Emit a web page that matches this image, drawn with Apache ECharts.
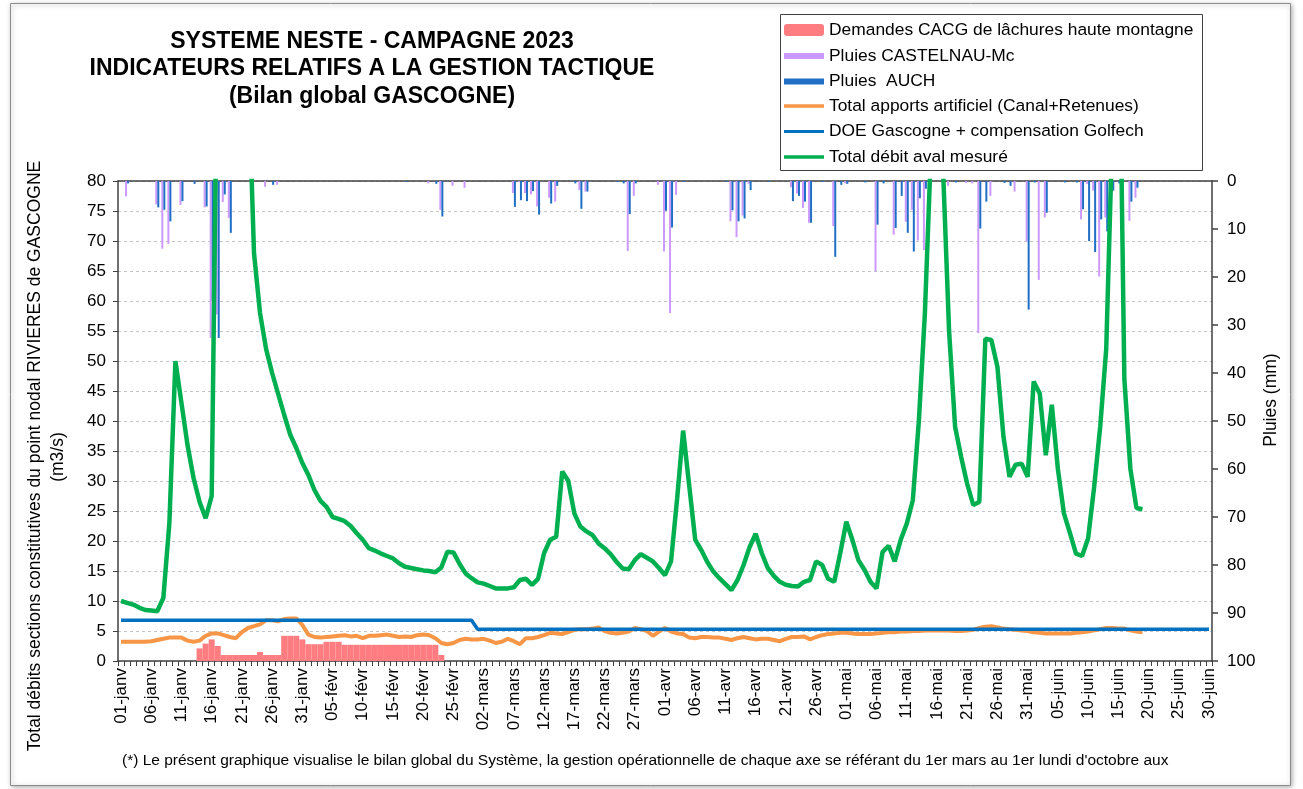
<!DOCTYPE html>
<html>
<head>
<meta charset="utf-8">
<script src="https://cdn.jsdelivr.net/npm/echarts@6/dist/echarts.min.js"></script>
<style>
html, body { margin: 0; padding: 0; background: #fff; }
#chart { width: 1303px; height: 789px; }
</style>
</head>
<body>
<div id="chart"></div>
<script>
// axe des dates : 01-janv -> 30-juin
var mois = ['janv', 'févr', 'mars', 'avr', 'mai', 'juin'];
var joursParMois = [31, 28, 31, 30, 31, 30];
var dates = [];
mois.forEach(function (m, k) {
  for (var d = 1; d <= joursParMois[k]; d++) dates.push((d < 10 ? '0' : '') + d + '-' + m);
});

var nomsSeries = [
  'Demandes CACG de lâchures haute montagne',
  'Pluies CASTELNAU-Mc',
  'Pluies  AUCH',
  'Total apports artificiel (Canal+Retenues)',
  'DOE Gascogne + compensation Golfech',
  'Total débit aval mesuré'
];

// m3/s
var demandesCACG = [
  0, 0, 0, 0, 0, 0, 0, 0, 0, 0,
  0, 0, 0, 2.1, 2.9, 3.6, 2.5, 1.0, 1.0, 1.0,
  1.0, 1.0, 1.0, 1.5, 1.0, 1.0, 1.0, 4.2, 4.2, 4.2,
  3.6, 2.8, 2.8, 2.8, 3.2, 3.2, 3.2, 2.7, 2.7, 2.7,
  2.7, 2.7, 2.7, 2.7, 2.7, 2.7, 2.7, 2.7, 2.7, 2.7,
  2.7, 2.7, 2.7, 1.0
];

// mm (axe de droite inversé)
var pluiesCastelnau = [
  0, 3.2, 0, 0, 0, 0, 4.9, 14.1, 13.1, 0,
  5.0, 0, 0, 0, 5.5, 32.7, 27.8, 4.4, 7.7, 0,
  0, 0, 0, 0, 1.2, 0, 0.8, 0, 0, 0,
  0, 0, 0, 0, 0, 0, 0, 0, 0, 0,
  0, 0, 0, 0, 0, 0, 0, 0, 0, 0,
  0, 0.5, 0, 6.0, 0, 1.0, 0, 1.4, 0, 0,
  0, 0, 0, 0, 0, 2.5, 0.2, 2.5, 2.8, 5.3,
  0, 3.5, 4.3, 0, 0, 0, 1.9, 2.2, 0, 0,
  0, 0, 0, 0, 14.6, 3.1, 0, 0, 0, 0.8,
  14.7, 27.5, 2.9, 0, 0, 0, 0, 0, 0, 0,
  0, 8.4, 11.7, 7.2, 0.6, 0, 0, 0, 0, 0,
  0, 1.3, 2.6, 5.6, 8.7, 0, 0, 0, 9.4, 0,
  0.5, 0, 0, 0, 0, 18.8, 0, 0, 11.2, 0,
  8.5, 6.0, 12.4, 14.4, 0, 0, 0, 1.0, 0, 0,
  0.4, 0.5, 31.7, 0, 3.1, 0, 0, 0, 2.2, 0,
  12.6, 0, 20.6, 7.6, 0, 0, 0, 0, 0, 8.0,
  0.6, 2.0, 19.9, 7.6, 3.0, 0, 0, 8.3, 3.5, 0
];

var pluiesAuch = [
  0, 0.5, 0, 0, 0, 0, 5.5, 6.0, 8.4, 0,
  4.2, 0, 0.6, 0, 5.3, 25.0, 32.7, 2.8, 10.8, 0,
  0, 0, 0, 0, 0, 0.8, 0, 0, 0, 0,
  0, 0, 0, 0, 0, 0, 0, 0, 0, 0,
  0, 0, 0, 0, 0, 0, 0, 0.2, 0, 0,
  0, 0, 0.6, 7.4, 0, 0, 0, 0, 0, 0,
  0, 0, 0, 0, 0, 5.4, 4.0, 4.2, 2.1, 7.0,
  0, 4.7, 1.0, 0, 0, 0.5, 5.8, 2.2, 0, 0,
  0, 0, 0.2, 0.5, 6.9, 0.5, 0, 0, 0, 0,
  6.2, 9.7, 0, 0.2, 0, 0, 0, 0, 0, 0,
  0.2, 6.1, 8.4, 7.8, 1.9, 0, 0, 0.2, 0, 0,
  0, 4.2, 3.1, 4.3, 8.7, 0, 0.2, 0, 15.8, 0.8,
  0.6, 0, 0, 0.3, 0, 9.1, 0.5, 0, 9.8, 3.1,
  10.8, 14.7, 3.6, 1.6, 0, 0, 0, 0, 0.3, 0,
  0, 0, 9.9, 4.3, 0, 0, 0.4, 1.0, 0, 0,
  26.8, 0.3, 0, 6.6, 0, 0, 0.3, 0, 0.3, 5.9,
  12.5, 14.8, 8.0, 10.5, 2.0, 0.5, 0, 4.3, 1.4, 0
];

var apportsArtificiels = [
  3.2, 3.2, 3.2, 3.2, 3.2, 3.3, 3.5, 3.7, 3.9, 3.9,
  3.9, 3.4, 3.2, 3.4, 4.2, 4.6, 4.6, 4.3, 4.0, 3.8,
  4.8, 5.5, 5.8, 6.1, 6.8, 6.8, 6.6, 7.0, 7.1, 7.1,
  6.0, 4.4, 4.0, 3.9, 4.0, 4.1, 4.2, 4.3, 4.1, 4.2,
  3.8, 4.2, 4.2, 4.3, 4.4, 4.2, 4.0, 4.1, 4.0, 4.3,
  4.4, 4.3, 3.8, 3.0, 2.8, 3.0, 3.5, 3.7, 3.6, 3.6,
  3.7, 3.4, 3.0, 3.2, 3.7, 3.3, 2.8, 3.8, 3.8, 4.0,
  4.3, 4.7, 4.6, 4.5, 4.8, 5.2, 5.3, 5.3, 5.4, 5.6,
  5.0, 4.7, 4.6, 4.7, 4.9, 5.5, 5.3, 5.0, 4.2, 4.9,
  5.5, 4.9, 4.6, 4.5, 3.9, 3.8, 4.0, 4.0, 3.9, 3.9,
  3.7, 3.5, 3.8, 4.0, 3.8, 3.6, 3.7, 3.7, 3.5, 3.3,
  3.7, 4.0, 4.0, 4.1, 3.6, 4.0, 4.3, 4.5, 4.6, 4.7,
  4.7, 4.6, 4.5, 4.5, 4.5, 4.6, 4.7, 4.8, 4.8, 4.9,
  4.9, 5.0, 5.0, 5.1, 5.1, 5.1, 5.1, 5.1, 5.0, 5.0,
  5.1, 5.2, 5.5, 5.7, 5.8, 5.6, 5.4, 5.3, 5.2, 5.1,
  5.0, 4.8, 4.7, 4.6, 4.6, 4.6, 4.6, 4.6, 4.7, 4.8,
  4.9, 5.1, 5.3, 5.5, 5.5, 5.4, 5.4, 5.1, 4.9, 4.8
];

var doeGolfech = [
  6.8, 6.8, 6.8, 6.8, 6.8, 6.8, 6.8, 6.8, 6.8, 6.8,
  6.8, 6.8, 6.8, 6.8, 6.8, 6.8, 6.8, 6.8, 6.8, 6.8,
  6.8, 6.8, 6.8, 6.8, 6.8, 6.8, 6.8, 6.8, 6.8, 6.8,
  6.8, 6.8, 6.8, 6.8, 6.8, 6.8, 6.8, 6.8, 6.8, 6.8,
  6.8, 6.8, 6.8, 6.8, 6.8, 6.8, 6.8, 6.8, 6.8, 6.8,
  6.8, 6.8, 6.8, 6.8, 6.8, 6.8, 6.8, 6.8, 6.8, 5.3,
  5.3, 5.3, 5.3, 5.3, 5.3, 5.3, 5.3, 5.3, 5.3, 5.3,
  5.3, 5.3, 5.3, 5.3, 5.3, 5.3, 5.3, 5.3, 5.3, 5.3,
  5.3, 5.3, 5.3, 5.3, 5.3, 5.3, 5.3, 5.3, 5.3, 5.3,
  5.3, 5.3, 5.3, 5.3, 5.3, 5.3, 5.3, 5.3, 5.3, 5.3,
  5.3, 5.3, 5.3, 5.3, 5.3, 5.3, 5.3, 5.3, 5.3, 5.3,
  5.3, 5.3, 5.3, 5.3, 5.3, 5.3, 5.3, 5.3, 5.3, 5.3,
  5.3, 5.3, 5.3, 5.3, 5.3, 5.3, 5.3, 5.3, 5.3, 5.3,
  5.3, 5.3, 5.3, 5.3, 5.3, 5.3, 5.3, 5.3, 5.3, 5.3,
  5.3, 5.3, 5.3, 5.3, 5.3, 5.3, 5.3, 5.3, 5.3, 5.3,
  5.3, 5.3, 5.3, 5.3, 5.3, 5.3, 5.3, 5.3, 5.3, 5.3,
  5.3, 5.3, 5.3, 5.3, 5.3, 5.3, 5.3, 5.3, 5.3, 5.3,
  5.3, 5.3, 5.3, 5.3, 5.3, 5.3, 5.3, 5.3, 5.3, 5.3,
  5.3
];

// valeurs > 80 sortent du cadre (coupées comme dans l'original)
var debitAval = [
  10.0, 9.7, 9.4, 8.9, 8.5, 8.4, 8.3, 10.5, 23, 50,
  43, 36, 30.5, 26.5, 23.8, 27.5, 110, 130, 125, 115,
  105, 100, 68, 58, 52, 48, 44.5, 41, 37.7, 35.5,
  33, 31, 28.5, 26.7, 25.7, 24, 23.7, 23.3, 22.5, 21.3,
  20.2, 18.8, 18.4, 17.9, 17.5, 17.1, 16.3, 15.7, 15.5, 15.3,
  15.1, 15.0, 14.8, 15.6, 18.2, 18.1, 16.2, 14.6, 13.8, 13.1,
  12.9, 12.5, 12.1, 12.1, 12.1, 12.3, 13.5, 13.7, 12.7, 13.7,
  18.0, 20.2, 20.7, 31.6, 30.0, 24.6, 22.4, 21.6, 21.0, 19.6,
  18.8, 17.8, 16.5, 15.4, 15.3, 16.8, 17.8, 17.2, 16.6, 15.5,
  14.3, 16.6, 27, 38.4, 29.3, 20.2, 18.5, 16.5, 14.9, 13.8,
  12.8, 11.8, 13.5, 16.0, 19.0, 21.2, 18.0, 15.5, 14.2, 13.2,
  12.7, 12.5, 12.4, 13.2, 13.5, 16.6, 16.0, 13.7, 13.2, 18.0,
  23.2, 20.2, 16.8, 15.2, 13.2, 12.1, 18.2, 19.2, 16.6, 20.2,
  22.9, 26.8, 40, 58, 85, 110, 82, 55, 39, 34,
  29.5, 26, 26.5, 53.7, 53.5, 49, 37.4, 30.7, 32.7, 32.9,
  30.7, 46.6, 44.6, 34.3, 42.7, 32, 24.6, 21.3, 17.9, 17.5,
  20.4, 29, 39, 52, 88, 120, 47, 32, 25.5, 25.3
];

var couleurs = ['#FF7C80', '#CC99FF', '#1F6FC5', '#F79646', '#0070C0', '#00B050'];
var FONT = "'Liberation Sans', Arial, sans-serif";

// une légende par ligne pour avoir des icônes de tailles différentes
var lignesLegende = [
  { icon: 'roundRect', h: 12, y: 29 },
  { icon: 'rect', h: 6, y: 55 },
  { icon: 'rect', h: 6, y: 80.5 },
  { icon: 'rect', h: 3.5, y: 105 },
  { icon: 'rect', h: 3, y: 130.5 },
  { icon: 'rect', h: 3.5, y: 156 }
];
var legendes = lignesLegende.map(function (l, k) {
  return {
    data: [{ name: nomsSeries[k], icon: l.icon }],
    left: 784,
    top: l.y - 7.5,
    padding: 0,
    itemWidth: 40,
    itemHeight: l.h,
    selectedMode: false,
    textStyle: { fontFamily: FONT, fontSize: 17.4, color: '#000' }
  };
});

var chart = echarts.init(document.getElementById('chart'));
var option = {
  animation: false,
  textStyle: { fontFamily: FONT },
  legend: legendes,
  grid: { left: 118, right: 91, top: 181, bottom: 128 },
  xAxis: [
    {
      type: 'category',
      data: dates,
      position: 'bottom',
      boundaryGap: true,
      axisLine: { lineStyle: { color: '#404040', width: 1.5 } },
      axisTick: { show: true, interval: 0, length: 5, lineStyle: { color: '#404040' } },
      axisLabel: { interval: 4, rotate: 90, margin: 7, fontSize: 17, color: '#000' },
      splitLine: { show: false }
    },
    {
      type: 'category',
      data: dates,
      position: 'top',
      boundaryGap: true,
      axisLine: { lineStyle: { color: '#404040', width: 1.5 } },
      axisTick: { show: false },
      axisLabel: { show: false },
      splitLine: { show: false }
    }
  ],
  yAxis: [
    {
      type: 'value',
      position: 'left',
      min: 0,
      max: 80,
      interval: 5,
      axisLine: { show: true, lineStyle: { color: '#404040', width: 1.5 } },
      axisTick: { show: true, length: 5, lineStyle: { color: '#404040' } },
      axisLabel: { margin: 12, fontSize: 17, color: '#000' },
      splitLine: { show: true, lineStyle: { color: '#c4c4c4', type: [3, 3] } }
    },
    {
      type: 'value',
      position: 'right',
      inverse: true,
      min: 0,
      max: 100,
      interval: 10,
      axisLine: { show: true, lineStyle: { color: '#404040', width: 1.5 } },
      axisTick: { show: true, length: 6, lineStyle: { color: '#404040', width: 1.5 } },
      axisLabel: { margin: 15, fontSize: 17, color: '#000' },
      splitLine: { show: false }
    }
  ],
  series: [
    {
      name: nomsSeries[0], type: 'bar', xAxisIndex: 1, yAxisIndex: 0,
      data: demandesCACG, barCategoryGap: '0%',
      itemStyle: { color: couleurs[0] }
    },
    {
      name: nomsSeries[1], type: 'bar', xAxisIndex: 0, yAxisIndex: 1,
      data: pluiesCastelnau, barWidth: 2, barGap: '0%',
      itemStyle: { color: couleurs[1] }
    },
    {
      name: nomsSeries[2], type: 'bar', xAxisIndex: 0, yAxisIndex: 1,
      data: pluiesAuch, barWidth: 2, barGap: '0%',
      itemStyle: { color: couleurs[2] }
    },
    {
      name: nomsSeries[3], type: 'line', xAxisIndex: 0, yAxisIndex: 0,
      data: apportsArtificiels, symbol: 'none',
      itemStyle: { color: couleurs[3] },
      lineStyle: { color: couleurs[3], width: 4 }
    },
    {
      name: nomsSeries[4], type: 'line', xAxisIndex: 0, yAxisIndex: 0,
      data: doeGolfech, symbol: 'none',
      itemStyle: { color: couleurs[4] },
      lineStyle: { color: couleurs[4], width: 3.5 }
    },
    {
      name: nomsSeries[5], type: 'line', xAxisIndex: 0, yAxisIndex: 0,
      data: debitAval, symbol: 'none', clip: true,
      itemStyle: { color: couleurs[5] },
      lineStyle: { color: couleurs[5], width: 4.5 }
    }
  ],
  graphic: [
    {
      type: 'rect', z: -10, silent: true,
      shape: { x: 10.5, y: 3.5, width: 1280, height: 782 },
      style: { fill: '#fff', stroke: '#8c8c8c', lineWidth: 1, shadowBlur: 5, shadowColor: 'rgba(0,0,0,0.35)', shadowOffsetX: 1, shadowOffsetY: 1 }
    },
    {
      type: 'rect', z: -5, silent: true,
      shape: { x: 780.5, y: 14.5, width: 422, height: 156 },
      style: { fill: '#fff', stroke: '#404040', lineWidth: 1 }
    },
    {
      type: 'text', x: 372, y: 69, silent: true,
      style: {
        text: 'SYSTEME NESTE - CAMPAGNE 2023\nINDICATEURS RELATIFS A LA GESTION TACTIQUE\n(Bilan global GASCOGNE)',
        font: 'bold 23px ' + FONT, lineHeight: 27.5,
        align: 'center', verticalAlign: 'middle', fill: '#000'
      }
    },
    {
      type: 'text', x: 35, y: 456, rotation: Math.PI / 2, silent: true,
      style: {
        text: 'Total débits sections constitutives du point nodal RIVIERES de GASCOGNE',
        font: '17.5px ' + FONT, align: 'center', verticalAlign: 'middle', fill: '#000'
      }
    },
    {
      type: 'text', x: 58, y: 457, rotation: Math.PI / 2, silent: true,
      style: { text: '(m3/s)', font: '17.5px ' + FONT, align: 'center', verticalAlign: 'middle', fill: '#000' }
    },
    {
      type: 'text', x: 1271, y: 400, rotation: Math.PI / 2, silent: true,
      style: { text: 'Pluies (mm)', font: '17.5px ' + FONT, align: 'center', verticalAlign: 'middle', fill: '#000' }
    },
    {
      type: 'text', x: 122, y: 761, silent: true,
      style: {
        text: "(*) Le présent graphique visualise le bilan global du Système, la gestion opérationnelle de chaque axe se référant du 1er mars au 1er lundi d'octobre aux",
        font: '15.5px ' + FONT, align: 'left', verticalAlign: 'middle', fill: '#000'
      }
    }
  ]
};
chart.setOption(option);
</script>
</body>
</html>
